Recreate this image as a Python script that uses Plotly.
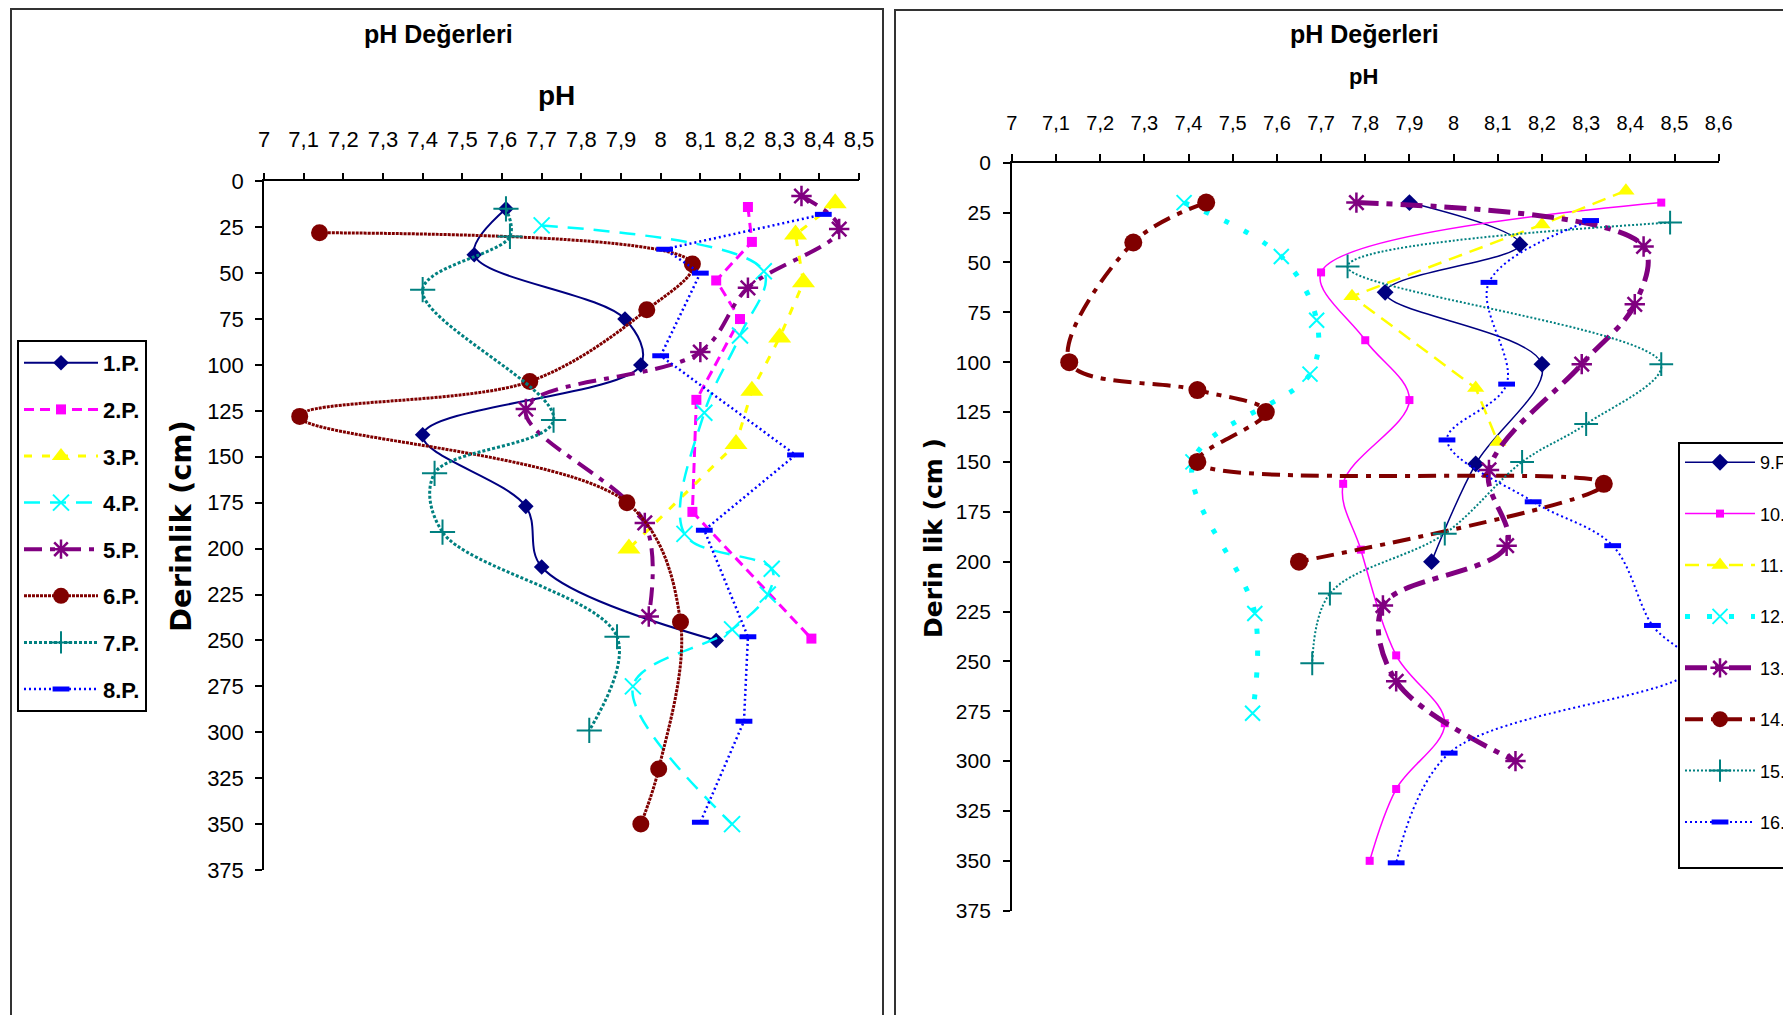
import plotly.graph_objects as go

# ---------------- data (pH vs depth) ----------------
left_names = ["1.P.", "2.P.", "3.P.", "4.P.", "5.P.", "6.P.", "7.P.", "8.P."]
right_names = ["9.P.", "10.P.", "11.P.", "12.P.", "13.P.", "14.P.", "15.P.", "16.P."]

p1_depth = [15, 40, 75, 100, 138, 177, 210, 250]
p1_ph = [7.61, 7.53, 7.91, 7.95, 7.40, 7.66, 7.70, 8.14]
p2_depth = [14, 33, 54, 75, 119, 180, 249]
p2_ph = [8.22, 8.23, 8.14, 8.20, 8.09, 8.08, 8.38]
p3_depth = [12, 29, 55, 85, 114, 143, 200]
p3_ph = [8.44, 8.34, 8.36, 8.30, 8.23, 8.19, 7.92]
p4_depth = [24, 49, 84, 126, 192, 211, 225, 244, 275, 350]
p4_ph = [7.70, 8.26, 8.20, 8.11, 8.06, 8.28, 8.27, 8.18, 7.93, 8.18]
p5_depth = [8, 26, 58, 93, 124, 186, 237]
p5_ph = [8.355, 8.45, 8.22, 8.10, 7.66, 7.96, 7.97]
p6_depth = [28, 45, 70, 109, 128, 175, 240, 320, 350]
p6_ph = [7.14, 8.08, 7.965, 7.67, 7.09, 7.915, 8.05, 7.995, 7.95]
p7_depth = [15, 30, 59, 130, 159, 191, 248, 299]
p7_ph = [7.61, 7.62, 7.40, 7.73, 7.43, 7.45, 7.89, 7.82]
p8_depth = [18, 37, 50, 95, 149, 190, 248, 294, 349]
p8_ph = [8.41, 8.01, 8.10, 8.00, 8.34, 8.11, 8.22, 8.21, 8.10]

p9_depth = [20, 41, 65, 101, 151, 200]
p9_ph = [7.90, 8.15, 7.845, 8.20, 8.05, 7.95]
p10_depth = [20, 55, 89, 119, 161, 194, 247, 281, 314, 350]
p10_ph = [8.47, 7.70, 7.80, 7.90, 7.75, 7.79, 7.87, 7.98, 7.87, 7.81]
p11_depth = [14, 31, 67, 113, 140]
p11_ph = [8.39, 8.20, 7.77, 8.05, 8.10]
p12_depth = [20, 47, 79, 106, 150, 226, 276]
p12_ph = [7.39, 7.61, 7.69, 7.675, 7.41, 7.55, 7.545]
p13_depth = [20, 42, 71, 101, 154, 192, 222, 260, 300]
p13_ph = [7.78, 8.43, 8.41, 8.29, 8.08, 8.12, 7.84, 7.87, 8.14]
p14_depth = [20, 40, 100, 114, 125, 150, 161, 200]
p14_ph = [7.44, 7.275, 7.13, 7.42, 7.575, 7.42, 8.34, 7.65]
p15_depth = [30, 52, 101, 131, 150, 186, 216, 251]
p15_ph = [8.49, 7.76, 8.47, 8.30, 8.155, 7.98, 7.72, 7.68]
p16_depth = [29, 60, 111, 139, 170, 192, 232, 253, 296, 351]
p16_ph = [8.31, 8.08, 8.12, 7.985, 8.18, 8.36, 8.45, 8.54, 7.99, 7.87]

left_tickvals = [7.0, 7.1, 7.2, 7.3, 7.4, 7.5, 7.6, 7.7, 7.8, 7.9, 8.0, 8.1, 8.2, 8.3, 8.4, 8.5]
left_ticktext = ["7", "7,1", "7,2", "7,3", "7,4", "7,5", "7,6", "7,7", "7,8", "7,9", "8", "8,1", "8,2", "8,3", "8,4", "8,5"]
right_tickvals = left_tickvals + [8.6]
right_ticktext = left_ticktext + ["8,6"]
depth_tickvals = [0, 25, 50, 75, 100, 125, 150, 175, 200, 225, 250, 275, 300, 325, 350, 375]
depth_ticktext = [str(v) for v in depth_tickvals]

# ---------------- styles ----------------
NAVY, MAG, YEL, CYAN = "#000080", "#FF00FF", "#FFFF00", "#00FFFF"
PURP, DRED, TEAL, BLUE = "#800080", "#800000", "#008080", "#0000FF"

W, H = 1791, 1015
OFF = 8  # page body margin offset
FONT = "Liberation Sans, Arial, sans-serif"
WIDE = "DejaVu Sans, Liberation Sans, sans-serif"


def px(x):
    return (x - OFF) / W


def py(y):
    return 1 - (y - OFF) / H


fig = go.Figure()


def add(name, ph, depth, color, dash, width, symbol, size, mlw, shape, xa, ya, leg):
    fig.add_trace(go.Scatter(
        x=ph, y=depth, name=name, mode="lines+markers",
        xaxis=xa, yaxis=ya, legend=leg, legendgroup=name,
        line=dict(color=color, dash=dash, width=width, shape=shape, smoothing=1),
        marker=dict(symbol=symbol, size=size, color=color,
                    line=dict(color=color, width=mlw)),
        cliponaxis=False,
    ))


L = ("x", "y", "legend")
R = ("x2", "y2", "legend2")
add(left_names[0], p1_ph, p1_depth, NAVY, "solid", 2, "diamond", 12, 0, "spline", *L)
add(left_names[1], p2_ph, p2_depth, MAG, "10px,6px", 3, "square", 10, 0, "linear", *L)
add(left_names[2], p3_ph, p3_depth, YEL, "8px,10px", 3, "triangle-up", 20, 0, "linear", *L)
add(left_names[3], p4_ph, p4_depth, CYAN, "16px,10px", 2.5, "x-thin", 16, 2, "spline", *L)
add(left_names[4], p5_ph, p5_depth, PURP, "18px,8px,5px,8px", 4, "asterisk", 17, 2.5, "spline", *L)
add(left_names[5], p6_ph, p6_depth, DRED, "3px,1px", 3, "circle", 17, 0, "spline", *L)
add(left_names[6], p7_ph, p7_depth, TEAL, "3px,2px", 3, "cross-thin", 18, 2, "spline", *L)
add(left_names[7], p8_ph, p8_depth, BLUE, "2px,3px", 2.5, "line-ew", 12, 5, "linear", *L)

add(right_names[0], p9_ph, p9_depth, NAVY, "solid", 1.5, "diamond", 13, 0, "spline", *R)
add(right_names[1], p10_ph, p10_depth, MAG, "solid", 1.5, "square", 8, 0, "spline", *R)
add(right_names[2], p11_ph, p11_depth, YEL, "14px,8px", 2.5, "triangle-up", 15, 0, "linear", *R)
add(right_names[3], p12_ph, p12_depth, CYAN, "5px,17px", 5, "x-thin", 15, 2, "spline", *R)
add(right_names[4], p13_ph, p13_depth, PURP, "22px,8px,6px,8px", 5, "asterisk", 17, 2.5, "spline", *R)
add(right_names[5], p14_ph, p14_depth, DRED, "18px,8px,5px,8px", 4, "circle", 18, 0, "spline", *R)
add(right_names[6], p15_ph, p15_depth, TEAL, "2px,2px", 2, "cross-thin", 17, 2, "spline", *R)
add(right_names[7], p16_ph, p16_depth, BLUE, "2px,3px", 2, "line-ew", 12, 5, "spline", *R)
# empty spacer row at the bottom of the right legend (as in the original box)
fig.add_trace(go.Scatter(x=[None], y=[None], name=" ", mode="lines", xaxis="x2", yaxis="y2",
                         legend="legend2", legendgroup=right_names[7], showlegend=True,
                         line=dict(color="rgba(0,0,0,0)", width=0), hoverinfo="skip"))

axis_common = dict(showline=True, linecolor="black", linewidth=1.5, ticks="outside",
                   ticklen=7, tickcolor="black", tickwidth=1.5, showgrid=False,
                   zeroline=False, fixedrange=True, automargin=False)

fig.update_layout(
    width=W, height=H, margin=dict(l=0, r=0, t=0, b=0, pad=0, autoexpand=False),
    paper_bgcolor="white", plot_bgcolor="white",
    font=dict(family=FONT, color="black"),
    xaxis=dict(domain=[px(264), px(859)], range=[7, 8.5], side="top", anchor="y",
               tickmode="array", tickvals=left_tickvals, ticktext=left_ticktext,
               tickfont=dict(size=22, family=FONT), ticklabelstandoff=17, **axis_common),
    yaxis=dict(domain=[py(870), py(181.3)], range=[375, 0], anchor="x",
               tickmode="array", tickvals=depth_tickvals, ticktext=depth_ticktext,
               tickfont=dict(size=22, family=FONT), ticklabelstandoff=7, **axis_common),
    xaxis2=dict(domain=[px(1011.8), px(1718.7)], range=[7, 8.6], side="top", anchor="y2",
                tickmode="array", tickvals=right_tickvals, ticktext=right_ticktext,
                tickfont=dict(size=20, family=FONT), ticklabelstandoff=16, **axis_common),
    yaxis2=dict(domain=[py(910.7), py(162.7)], range=[375, 0], anchor="x2",
                tickmode="array", tickvals=depth_tickvals, ticktext=depth_ticktext,
                tickfont=dict(size=21, family=FONT), ticklabelstandoff=8, **axis_common),
    legend=dict(x=px(17), y=py(340), xanchor="left", yanchor="top",
                bgcolor="white", bordercolor="black", borderwidth=2,
                font=dict(size=22, family=FONT, weight="bold"),
                traceorder="grouped", tracegroupgap=15, itemwidth=74),
    legend2=dict(x=px(1678), y=py(442), xanchor="left", yanchor="top",
                 bgcolor="white", bordercolor="black", borderwidth=2,
                 font=dict(size=18, family=FONT),
                 traceorder="grouped", tracegroupgap=25, itemwidth=70),
    showlegend=True,
)

# panel frames (top edge placed at the first drawable row of the page)
fig.add_shape(type="rect", xref="paper", yref="paper", x0=px(11), x1=px(883),
              y0=-0.05, y1=py(9), line=dict(color="#333333", width=2), layer="below")
fig.add_shape(type="rect", xref="paper", yref="paper", x0=px(895), x1=1.05,
              y0=-0.05, y1=py(10), line=dict(color="#333333", width=2), layer="below")

ann = [
    dict(text="pH Değerleri", x=438.6, y=34.5, size=25),
    dict(text="pH", x=556, y=95, size=28),
    dict(text="pH Değerleri", x=1364, y=34.5, size=25),
    dict(text="pH", x=1363, y=76, size=22),
]
for a in ann:
    fig.add_annotation(text=a["text"], x=px(a["x"]), y=py(a["y"]), xref="paper", yref="paper",
                       showarrow=False, xanchor="center", yanchor="middle",
                       font=dict(size=a["size"], family=FONT, weight="bold"))
fig.add_annotation(text="Derinlik (cm)", x=px(181), y=py(526), xref="paper", yref="paper",
                   showarrow=False, textangle=-90, xanchor="center", yanchor="middle",
                   font=dict(size=29, family=WIDE, weight="bold"))
fig.add_annotation(text="Derin lik (cm )", x=px(933), y=py(538), xref="paper", yref="paper",
                   showarrow=False, textangle=-90, xanchor="center", yanchor="middle",
                   font=dict(size=25, family=WIDE, weight="bold"))

fig.write_html("out.html")
